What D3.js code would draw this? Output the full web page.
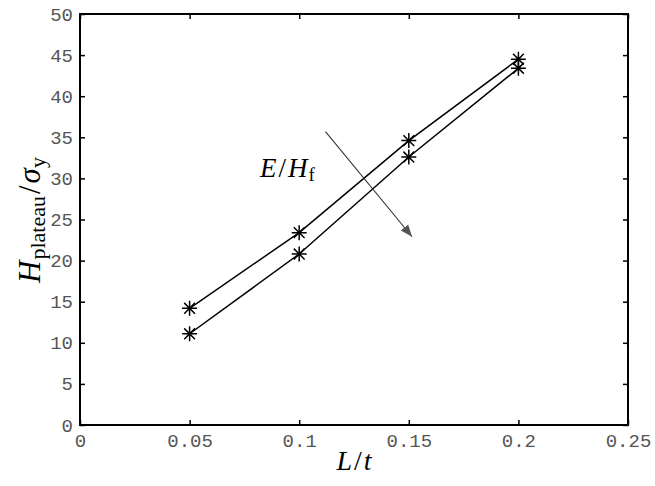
<!DOCTYPE html>
<html>
<head>
<meta charset="utf-8">
<script src="https://cdn.jsdelivr.net/npm/d3@7"></script>
<style>
  body { margin: 0; background: #fff; }
  .tick text { font-family: "Liberation Mono", "DejaVu Sans Mono", monospace; fill: #555; }
  .math { font-family: "Liberation Serif", "DejaVu Serif", serif; fill: #000; }
</style>
</head>
<body>
<svg width="655" height="486"></svg>
<script>
// data
let ratio = [0.05, 0.1, 0.15, 0.2];
let upper = [14.2, 23.4, 34.6, 44.5];
let lower = [11.1, 20.8, 32.6, 43.4];
let xTicks = [0, 0.05, 0.1, 0.15, 0.2, 0.25];
let yTicks = [0, 5, 10, 15, 20, 25, 30, 35, 40, 45, 50];
let arrowFrom = [0.112, 35.7];
let arrowTo = [0.1515, 22.9];

function drawChart() {
    var svg = d3.select("svg"),
        mLeft = 80, mRight = 628, mTop = 14, mBottom = 425;

    var x = d3.scaleLinear().domain([0, 0.25]).range([mLeft, mRight]);
    var y = d3.scaleLinear().domain([0, 50]).range([mBottom, mTop]);

    // axes, ticks point inward on all four sides
    var tickLen = 5;
    var gx = svg.append("g").attr("transform", "translate(0," + mBottom + ")")
        .call(d3.axisBottom(x).tickValues(xTicks).tickSize(-tickLen).tickPadding(9)
            .tickFormat(d => d === 0 ? "0" : String(+d.toFixed(2))));
    var gy = svg.append("g").attr("transform", "translate(" + mLeft + ",0)")
        .call(d3.axisLeft(y).tickValues(yTicks).tickSize(-tickLen).tickPadding(7).tickFormat(d3.format("d")));
    var gx2 = svg.append("g").attr("transform", "translate(0," + mTop + ")")
        .call(d3.axisTop(x).tickValues(xTicks).tickSize(-tickLen).tickFormat(""));
    var gy2 = svg.append("g").attr("transform", "translate(" + mRight + ",0)")
        .call(d3.axisRight(y).tickValues(yTicks).tickSize(-tickLen).tickFormat(""));

    [gx, gy, gx2, gy2].forEach(g => {
        g.select(".domain").remove();
        g.selectAll(".tick line").attr("stroke", "#000").attr("stroke-width", 1.5);
        g.selectAll(".tick text").attr("font-size", 19);
    });

    svg.append("rect")
        .attr("x", mLeft).attr("y", mTop)
        .attr("width", mRight - mLeft).attr("height", mBottom - mTop)
        .attr("fill", "none").attr("stroke", "#000").attr("stroke-width", 2);

    // series lines
    var line = d3.line().x((d, i) => x(ratio[i])).y(d => y(d));

    [upper, lower].forEach(s => {
        svg.append("path").datum(s)
            .attr("d", line)
            .attr("fill", "none").attr("stroke", "#000").attr("stroke-width", 1.5);

        // asterisk markers
        var r = 7.5, rd = r * 0.72;
        s.forEach((v, i) => {
            var cx = x(ratio[i]), cy = y(v);
            var p = "M" + (cx - r) + "," + cy + "h" + (2 * r) +
                    "M" + cx + "," + (cy - r) + "v" + (2 * r) +
                    "M" + (cx - rd) + "," + (cy - rd) + "l" + (2 * rd) + "," + (2 * rd) +
                    "M" + (cx - rd) + "," + (cy + rd) + "l" + (2 * rd) + "," + (-2 * rd);
            svg.append("path").attr("d", p).attr("stroke", "#000").attr("stroke-width", 1.5);
        });
    });

    // arrow
    svg.append("defs").append("marker")
        .attr("id", "head").attr("viewBox", "0 0 10 10")
        .attr("refX", 10).attr("refY", 5)
        .attr("markerWidth", 12).attr("markerHeight", 12)
        .attr("markerUnits", "userSpaceOnUse")
        .attr("orient", "auto")
        .append("path").attr("d", "M0,1L10,5L0,9Z").attr("fill", "#555");

    svg.append("line")
        .attr("x1", x(arrowFrom[0])).attr("y1", y(arrowFrom[1]))
        .attr("x2", x(arrowTo[0])).attr("y2", y(arrowTo[1]))
        .attr("stroke", "#333").attr("stroke-width", 1.1)
        .attr("marker-end", "url(#head)");

    // annotation E/H_f
    var ann = svg.append("text").attr("class", "math")
        .attr("x", 260).attr("y", 177).attr("font-size", 27);
    ann.append("tspan").attr("font-style", "italic").text("E");
    ann.append("tspan").attr("dx", 2).text("/");
    ann.append("tspan").attr("dx", 2).attr("font-style", "italic").text("H");
    ann.append("tspan").attr("font-size", 19).attr("dy", 4).attr("dx", 1).text("f");

    // x label
    var xl = svg.append("text").attr("class", "math")
        .attr("x", 354).attr("y", 470).attr("text-anchor", "middle").attr("font-size", 28);
    xl.append("tspan").attr("font-style", "italic").text("L");
    xl.append("tspan").attr("dx", 2).text("/");
    xl.append("tspan").attr("dx", 2).attr("font-style", "italic").text("t");

    // y label
    var yl = svg.append("text").attr("class", "math")
        .attr("transform", "translate(40,220) rotate(-90)")
        .attr("text-anchor", "middle").attr("font-size", 31);
    yl.append("tspan").attr("font-style", "italic").text("H");
    yl.append("tspan").attr("font-size", 22).attr("dy", 5).attr("dx", 1).text("plateau");
    yl.append("tspan").attr("dy", -5).attr("dx", 2).text("/");
    yl.append("tspan").attr("dx", 2).attr("font-style", "italic").text("σ");
    yl.append("tspan").attr("font-size", 22).attr("dy", 5).text("y");
}

drawChart();
</script>
</body>
</html>
